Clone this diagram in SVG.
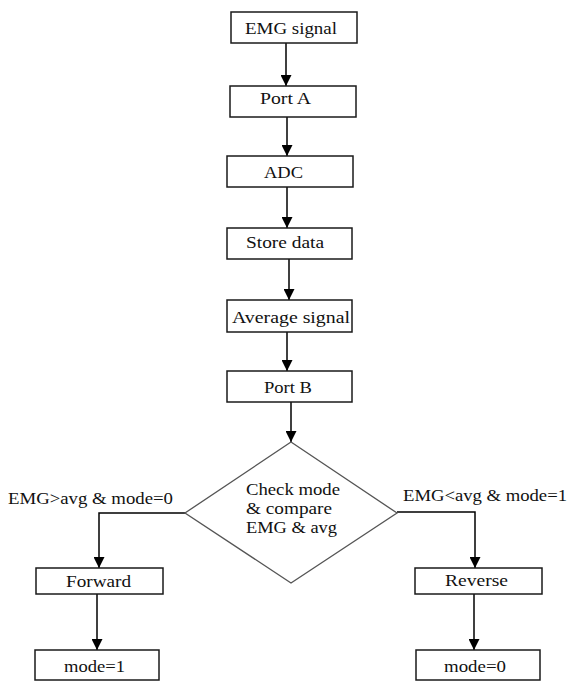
<svg xmlns="http://www.w3.org/2000/svg" width="568" height="681" viewBox="0 0 568 681">
<style>
.box{fill:#fff;stroke:#1a1a1a;stroke-width:1.5}
.dia{fill:#fff;stroke:#555;stroke-width:1.3}
.t{font-family:'Liberation Serif','DejaVu Serif',serif;font-size:16px;fill:#111}
.c{fill:none;stroke:#000;stroke-width:1.5;marker-end:url(#ah)}
</style>
<defs>
<marker id="ah" markerUnits="userSpaceOnUse" markerWidth="11" markerHeight="11" refX="10" refY="5" orient="auto" viewBox="0 0 10 10">
<path d="M0,0 L10,5 L0,10 z" fill="#000"/>
</marker>
</defs>
<rect width="568" height="681" fill="#fff"/>
<g id="connectors">
<line class="c" x1="286" y1="43" x2="286" y2="86"/>
<line class="c" x1="287" y1="117" x2="287" y2="156"/>
<line class="c" x1="287" y1="187" x2="287" y2="228"/>
<line class="c" x1="289" y1="259" x2="289" y2="300"/>
<line class="c" x1="287" y1="332" x2="287" y2="371"/>
<line class="c" x1="291" y1="402" x2="291" y2="442"/>
<polyline class="c" points="185,513 99,513 99,568"/>
<polyline class="c" points="397,512 475,512 475,568"/>
<line class="c" x1="97" y1="594" x2="97" y2="650"/>
<line class="c" x1="474" y1="594" x2="474" y2="650"/>
<text class="t" font-family="Liberation Serif, serif" x="8" y="504" textLength="165" lengthAdjust="spacingAndGlyphs">EMG&gt;avg &amp; mode=0</text>
<text class="t" font-family="Liberation Serif, serif" x="403" y="501" textLength="164" lengthAdjust="spacingAndGlyphs">EMG&lt;avg &amp; mode=1</text>
</g>
<g id="emg">
<rect class="box" x="231" y="12" width="126" height="31"/>
<text class="t" x="245" y="34" textLength="92" lengthAdjust="spacingAndGlyphs">EMG signal</text>
</g>
<g id="porta">
<rect class="box" x="230" y="86" width="126" height="31"/>
<text class="t" x="260" y="104" textLength="51" lengthAdjust="spacingAndGlyphs">Port A</text>
</g>
<g id="adc">
<rect class="box" x="227" y="156" width="126" height="31"/>
<text class="t" x="264" y="178" textLength="39" lengthAdjust="spacingAndGlyphs">ADC</text>
</g>
<g id="store">
<rect class="box" x="227" y="228" width="125" height="31"/>
<text class="t" x="246" y="248" textLength="78" lengthAdjust="spacingAndGlyphs">Store data</text>
</g>
<g id="avg">
<rect class="box" x="227" y="300" width="125" height="32"/>
<text class="t" x="232" y="323" textLength="118" lengthAdjust="spacingAndGlyphs">Average signal</text>
</g>
<g id="portb">
<rect class="box" x="227" y="371" width="125" height="31"/>
<text class="t" x="264" y="393" textLength="48" lengthAdjust="spacingAndGlyphs">Port B</text>
</g>
<g id="check">
<polygon class="dia" points="291,442 397,513 291,583 185,513"/>
<text class="t" x="246" y="495" textLength="94" lengthAdjust="spacingAndGlyphs">Check mode</text>
<text class="t" x="246" y="514" textLength="86" lengthAdjust="spacingAndGlyphs">&amp; compare</text>
<text class="t" x="246" y="533" textLength="91" lengthAdjust="spacingAndGlyphs">EMG &amp; avg</text>
</g>
<g id="forward">
<rect class="box" x="36" y="568" width="127" height="26"/>
<text class="t" x="66" y="587" textLength="65" lengthAdjust="spacingAndGlyphs">Forward</text>
</g>
<g id="reverse">
<rect class="box" x="415" y="568" width="127" height="26"/>
<text class="t" x="445" y="586" textLength="63" lengthAdjust="spacingAndGlyphs">Reverse</text>
</g>
<g id="mode1">
<rect class="box" x="35" y="650" width="124" height="30"/>
<text class="t" x="64" y="672" textLength="61" lengthAdjust="spacingAndGlyphs">mode=1</text>
</g>
<g id="mode0">
<rect class="box" x="416" y="650" width="124" height="30"/>
<text class="t" x="444" y="672" textLength="62" lengthAdjust="spacingAndGlyphs">mode=0</text>
</g>
</svg>
